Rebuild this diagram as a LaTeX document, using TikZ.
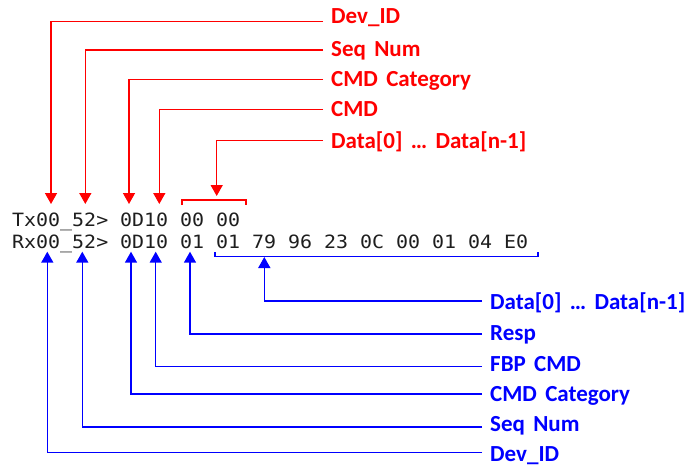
\documentclass[tikz,border=0pt]{standalone}
\usepackage{fontspec}
\usetikzlibrary{arrows.meta}
\setmainfont{Carlito}
\newfontfamily\lblfont[WordSpace=1.6]{Carlito}
\newfontfamily\codefont[FakeStretch=1.09]{DejaVu Sans Mono}
\definecolor{codeink}{HTML}{1E1E1E}
\tikzset{
  txlink/.style={draw=red, line width=1.5pt, -{Triangle[length=11pt,width=12pt]}},
  rxlink/.style={draw=blue, line width=1.5pt, -{Triangle[length=11pt,width=12pt]}},
  txbrace/.style={draw=red, line width=1.5pt},
  rxbrace/.style={draw=blue, line width=1.5pt},
  txlabel/.style={anchor=base west, inner sep=0pt, text=red, font=\lblfont\bfseries\fontsize{23}{27}\selectfont},
  rxlabel/.style={anchor=base west, inner sep=0pt, text=blue, font=\lblfont\bfseries\fontsize{23}{27}\selectfont},
  code/.style={anchor=base west, inner sep=0pt, text=codeink, font=\codefont\fontsize{18.3}{22}\selectfont},
}
\begin{document}
\begin{tikzpicture}[x=1pt,y=-1pt]
\fill[white] (0,0) rectangle (687,468);
\useasboundingbox (0,0) rectangle (687,468);

% --- transmitted frame ---
\node[code] (tx0) at (12,226.7) {Tx00\_52>};
\node[code] (tx1) at (120,226.7) {0D10};
\node[code] (tx2) at (180,226.7) {00};
\node[code] (tx3) at (216,226.7) {00};

% --- received frame ---
\node[code] (rx0) at (12,248.3) {Rx00\_52>};
\node[code] (rx1) at (120,248.3) {0D10};
\foreach \b [count=\k from 0] in {01,01,79,96,23,0C,00,01,04,E0}
  \node[code] (rxb\k) at ({180+36*\k},248.3) {\b};

% --- Tx field labels ---
\node[txlabel] (tdev)  at (331,24)    {Dev\_ID};
\node[txlabel] (tseq)  at (331,56.7)  {Seq Num};
\node[txlabel] (tcat)  at (331,86.5)  {CMD Category};
\node[txlabel] (tcmd)  at (331,117)   {CMD};
\node[txlabel] (tdata) at (331,148)   {Data[0]  … Data[n-1]};

\coordinate (tdevS)  at (323,21.7);   \coordinate (tdevT)  at (51,204);
\coordinate (tseqS)  at (323,50);     \coordinate (tseqT)  at (85.3,204);
\coordinate (tcatS)  at (323,79.7);   \coordinate (tcatT)  at (129,204);
\coordinate (tcmdS)  at (323,109.5);  \coordinate (tcmdT)  at (159.3,204);
\coordinate (tdataS) at (323,140.5);  \coordinate (tdataT) at (216.7,196);

\draw[txlink] (tdevS)  -| (tdevT);
\draw[txlink] (tseqS)  -| (tseqT);
\draw[txlink] (tcatS)  -| (tcatT);
\draw[txlink] (tcmdS)  -| (tcmdT);
\draw[txlink] (tdataS) -| (tdataT);
\draw[txbrace] (182,205) -- (182,200) -- (246,200) -- (246,205);

% --- Rx field labels ---
\node[rxlabel] (rdata) at (490,309.3) {Data[0]  … Data[n-1]};
\node[rxlabel] (rresp) at (490,340)   {Resp};
\node[rxlabel] (rfbp)  at (490,371.7) {FBP CMD};
\node[rxlabel] (rcat)  at (490,401.7) {CMD Category};
\node[rxlabel] (rseq)  at (490,431.7) {Seq Num};
\node[rxlabel] (rdev)  at (490,461.7) {Dev\_ID};

\coordinate (rdataS) at (482,301);    \coordinate (rdataT) at (264.3,257);
\coordinate (rrespS) at (482,334);    \coordinate (rrespT) at (190,251.7);
\coordinate (rfbpS)  at (482,366.7);  \coordinate (rfbpT)  at (155.7,251.7);
\coordinate (rcatS)  at (482,394);    \coordinate (rcatT)  at (131,251.7);
\coordinate (rseqS)  at (482,427);    \coordinate (rseqT)  at (82.3,251.7);
\coordinate (rdevS)  at (482,452.7);  \coordinate (rdevT)  at (47.3,251.7);

\draw[rxlink] (rdataS) -| (rdataT);
\draw[rxlink] (rrespS) -| (rrespT);
\draw[rxlink] (rfbpS)  -| (rfbpT);
\draw[rxlink] (rcatS)  -| (rcatT);
\draw[rxlink] (rseqS)  -| (rseqT);
\draw[rxlink] (rdevS)  -| (rdevT);
\draw[rxbrace] (215,252) -- (215,256.5) -- (538,256.5) -- (538,252);
\end{tikzpicture}
\end{document}
